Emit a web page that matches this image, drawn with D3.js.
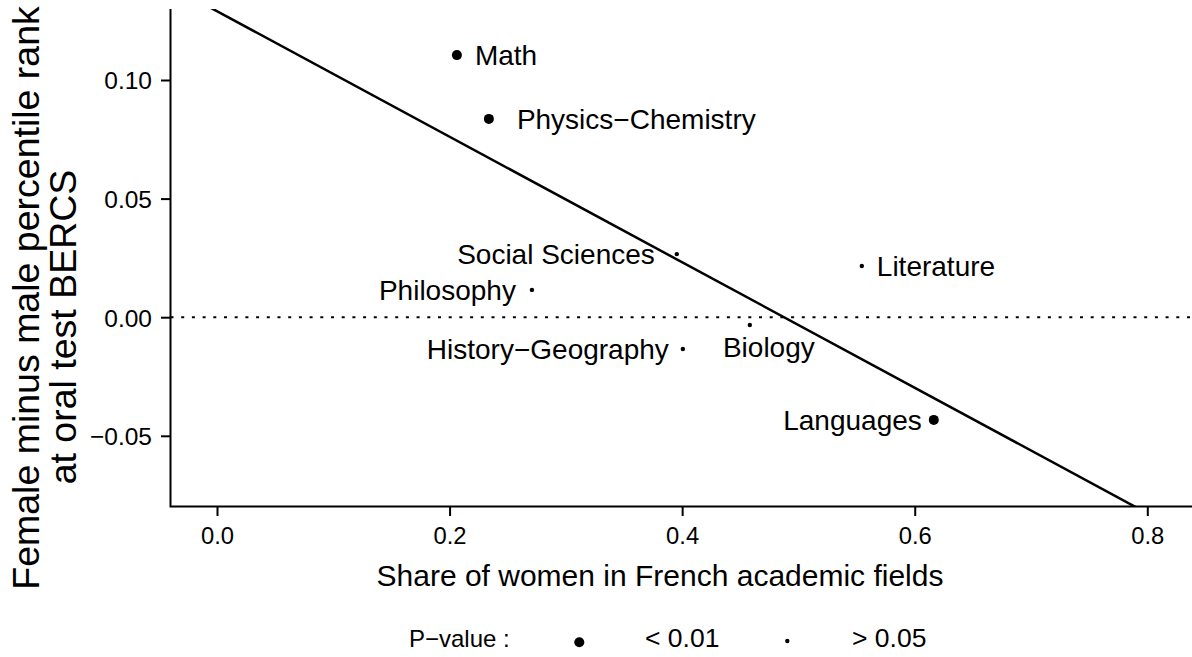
<!DOCTYPE html>
<html><head><meta charset="utf-8">
<script src="https://cdn.jsdelivr.net/npm/d3@7"></script>
<style>
html,body{margin:0;padding:0;background:#fff;}
svg{display:block;font-family:"Liberation Sans",Arial,sans-serif;}
</style></head>
<body>
<svg id="chart" width="1192" height="657"></svg>
<script>
// ---- data ----
const fields = ["Math","Physics\u2212Chemistry","Social Sciences","Literature","Philosophy","Biology","History\u2212Geography","Languages"];
const shareWomen = [0.2063,0.2338,0.3954,0.5545,0.2708,0.4582,0.4006,0.6164];
const rankGap = [0.1105,0.0836,0.0266,0.0216,0.0115,-0.0033,-0.0134,-0.0433];
const significant = [true,true,false,false,false,false,false,true];
const xTicks = [0,0.2,0.4,0.6,0.8];
const yTicks = [-0.05,0,0.05,0.10];
const fitIntercept = 0.129;
const fitSlope = -0.2646;
const legendLabels = ["< 0.01","> 0.05"];

// ---- layout (not data) ----
const labelSide = ["right","right","left","right","left","below","left","left"];
const labelGap  = [18,28,22,15,16,14,14,12];

const svg = d3.select("#chart");
const plot = {left:170.5, right:1200, top:9, bottom:506.5};
const x = d3.scaleLinear().domain([0,0.8]).range([217,1147.3]);
const y = d3.scaleLinear().domain([-0.05,0.10]).range([435.8,80]);

// clip
svg.append("clipPath").attr("id","clip").append("rect")
  .attr("x",plot.left).attr("y",plot.top).attr("width",plot.right-plot.left).attr("height",plot.bottom-plot.top);

// dotted zero line
svg.append("line").attr("x1",plot.left).attr("x2",plot.right)
  .attr("y1",y(0)).attr("y2",y(0))
  .attr("stroke","#000").attr("stroke-width",2).attr("stroke-dasharray","3,7.7");

// regression line
const xd = [x.invert(plot.left), x.invert(plot.right)];
svg.append("line").attr("clip-path","url(#clip)")
  .attr("x1",x(xd[0])).attr("y1",y(fitIntercept+fitSlope*xd[0]))
  .attr("x2",x(xd[1])).attr("y2",y(fitIntercept+fitSlope*xd[1]))
  .attr("stroke","#000").attr("stroke-width",2.5);

// axes
const xAxis = d3.axisBottom(x).tickValues(xTicks).tickFormat(d3.format(".1f")).tickSize(9.5).tickSizeOuter(0);
const gx = svg.append("g").attr("transform",`translate(0,${plot.bottom})`).call(xAxis);
gx.select(".domain").remove();
gx.selectAll(".tick line").attr("stroke","#000").attr("stroke-width",2);
gx.selectAll(".tick text").attr("font-size",23.8).attr("fill","#000").attr("dy",null).attr("y",37.5);

const yAxis = d3.axisLeft(y).tickValues(yTicks).tickFormat(d => d3.format(".2f")(d).replace("-","\u2212")).tickSize(9.5).tickSizeOuter(0);
const gy = svg.append("g").attr("transform",`translate(${plot.left},0)`).call(yAxis);
gy.select(".domain").remove();
gy.selectAll(".tick line").attr("stroke","#000").attr("stroke-width",2);
gy.selectAll(".tick text").attr("font-size",24.5).attr("fill","#000").attr("x",-18.5).attr("dy","0.36em");

// L-shaped box
svg.append("path").attr("d",`M${plot.left},${plot.top}V${plot.bottom}H${plot.right}`)
  .attr("fill","none").attr("stroke","#000").attr("stroke-width",2);

// points
const pts = fields.map((f,i)=>({f, xv:shareWomen[i], yv:rankGap[i], sig:significant[i], side:labelSide[i], gap:labelGap[i]}));
svg.append("g").selectAll("circle").data(pts).join("circle")
  .attr("cx",d=>x(d.xv)).attr("cy",d=>y(d.yv))
  .attr("r",d=>d.sig?5:2.2).attr("fill","#000");

svg.append("g").selectAll("text").data(pts).join("text")
  .attr("font-size",28).attr("fill","#000")
  .attr("x",d=> d.side==="right"? x(d.xv)+d.gap : d.side==="left"? x(d.xv)-d.gap : x(d.xv)+19)
  .attr("y",d=> d.side==="below"? y(d.yv)+d.gap+18 : y(d.yv)+10)
  .attr("text-anchor",d=> d.side==="right"?"start": d.side==="left"?"end":"middle")
  .text(d=>d.f);

// axis titles
svg.append("text").attr("x",660).attr("y",586).attr("text-anchor","middle")
  .attr("font-size",30).attr("fill","#000").text("Share of women in French academic fields");

svg.append("text").attr("transform","translate(39,298) rotate(-90)").attr("text-anchor","middle")
  .attr("font-size",37.5).attr("fill","#000").text("Female minus male percentile rank");
svg.append("text").attr("transform","translate(76,327) rotate(-90)").attr("text-anchor","middle")
  .attr("font-size",37.5).attr("fill","#000").text("at oral test BERCS");

// legend
const lg = svg.append("g");
lg.append("text").attr("x",409).attr("y",647).attr("font-size",24).attr("fill","#000").text("P\u2212value :");
lg.append("circle").attr("cx",579.3).attr("cy",642.3).attr("r",5).attr("fill","#000");
lg.append("text").attr("x",645).attr("y",647).attr("font-size",26.5).attr("fill","#000").text(legendLabels[0]);
lg.append("circle").attr("cx",787.3).attr("cy",641).attr("r",2.2).attr("fill","#000");
lg.append("text").attr("x",852).attr("y",647).attr("font-size",26.5).attr("fill","#000").text(legendLabels[1]);
</script>
</body></html>
